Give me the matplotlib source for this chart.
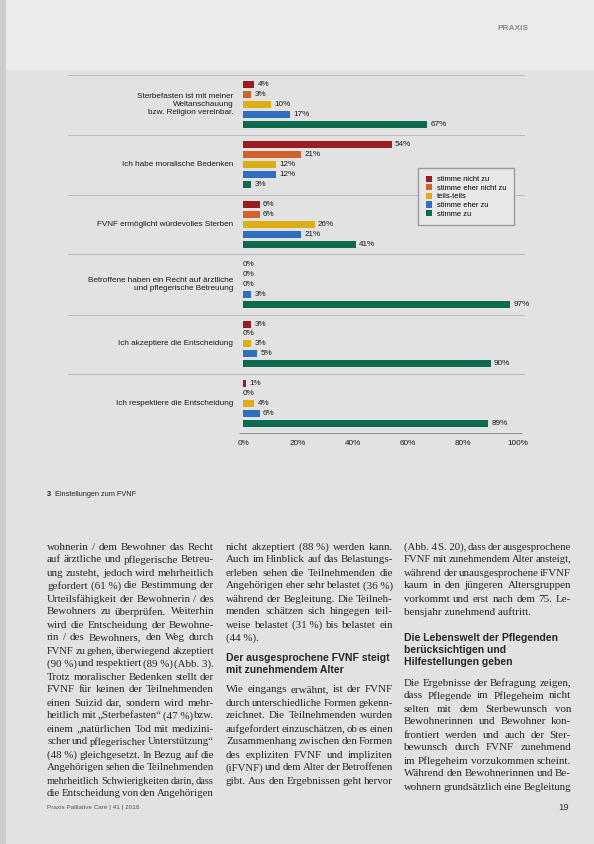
import matplotlib
matplotlib.use("Agg")
import matplotlib.pyplot as plt
from matplotlib.patches import Rectangle
import numpy as np

W, H = 594, 844

STATEMENTS = [
    "Sterbefasten ist mit meiner\nWeltanschauung\nbzw. Religion vereinbar.",
    "Ich habe moralische Bedenken",
    "FVNF ermöglicht würdevolles Sterben",
    "Betroffene haben ein Recht auf ärztliche\nund pflegerische Betreuung",
    "Ich akzeptiere die Entscheidung",
    "Ich respektiere die Entscheidung",
]
ANSWERS = ["stimme nicht zu", "stimme eher nicht zu", "teils-teils",
           "stimme eher zu", "stimme zu"]
stimme_nicht_zu = [4, 54, 6, 0, 3, 1]
stimme_eher_nicht_zu = [3, 21, 6, 0, 0, 0]
teils_teils = [10, 12, 26, 0, 3, 4]
stimme_eher_zu = [17, 12, 21, 3, 5, 6]
stimme_zu = [67, 3, 41, 97, 90, 89]
SERIES = [stimme_nicht_zu, stimme_eher_nicht_zu, teils_teils, stimme_eher_zu, stimme_zu]
COLORS = ["#9c1c22", "#d0622c", "#dcae14", "#2f6fbe", "#0b6a50"]
XTICKS = [0, 20, 40, 60, 80, 100]

CAPTION = "Einstellungen zum FVNF"

COL1 = [
    "wohnerin / dem Bewohner das Recht",
    "auf ärztliche und pflegerische Betreu-",
    "ung zusteht, jedoch wird mehrheitlich",
    "gefordert (61\u00a0%) die Bestimmung der",
    "Urteilsfähigkeit der Bewohnerin / des",
    "Bewohners zu überprüfen. Weiterhin",
    "wird die Entscheidung der Bewohne-",
    "rin / des Bewohners, den Weg durch",
    "FVNF zu gehen, überwiegend akzeptiert",
    "(90\u00a0%) und respektiert (89\u00a0%) (Abb.\u00a03).",
    "Trotz moralischer Bedenken stellt der",
    "FVNF für keinen der Teilnehmenden",
    "einen Suizid dar, sondern wird mehr-",
    "heitlich mit „Sterbefasten“ (47\u00a0%) bzw.",
    "einem „natürlichen Tod mit medizini-",
    "scher und pflegerischer Unterstützung“",
    "(48\u00a0%) gleichgesetzt. In Bezug auf die",
    "Angehörigen sehen die Teilnehmenden",
    "mehrheitlich Schwierigkeiten darin, dass",
    "die Entscheidung von den Angehörigen",
]
COL2A = [
    "nicht akzeptiert (88\u00a0%) werden kann.",
    "Auch im Hinblick auf das Belastungs-",
    "erleben sehen die Teilnehmenden die",
    "Angehörigen eher sehr belastet (36\u00a0%)",
    "während der Begleitung. Die Teilneh-",
    "menden schätzen sich hingegen teil-",
    "weise belastet (31\u00a0%) bis belastet ein",
    "(44\u00a0%).",
]
HEAD2 = ["Der ausgesprochene FVNF steigt", "mit zunehmendem Alter"]
COL2B = [
    "Wie eingangs erwähnt, ist der FVNF",
    "durch unterschiedliche Formen gekenn-",
    "zeichnet. Die Teilnehmenden wurden",
    "aufgefordert einzuschätzen, ob es einen",
    "Zusammenhang zwischen den Formen",
    "des expliziten FVNF und impliziten",
    "(iFVNF) und dem Alter der Betroffenen",
    "gibt. Aus den Ergebnissen geht hervor",
]
COL3A = [
    "(Abb.\u00a04 S.\u00a020), dass der ausgesprochene",
    "FVNF mit zunehmendem Alter ansteigt,",
    "während der unausgesprochene iFVNF",
    "kaum in den jüngeren Altersgruppen",
    "vorkommt und erst nach dem 75. Le-",
    "bensjahr zunehmend auftritt.",
]
HEAD3 = ["Die Lebenswelt der Pflegenden", "berücksichtigen und", "Hilfestellungen geben"]
COL3B = [
    "Die Ergebnisse der Befragung zeigen,",
    "dass Pflegende im Pflegeheim nicht",
    "selten mit dem Sterbewunsch von",
    "Bewohnerinnen und Bewohner kon-",
    "frontiert werden und auch der Ster-",
    "bewunsch durch FVNF zunehmend",
    "im Pflegeheim vorzukommen scheint.",
    "Während den Bewohnerinnen und Be-",
    "wohnern grundsätzlich eine Begleitung",
]


def fx(px):
    return px / W


def fy(py):
    return 1 - py / H


fig = plt.figure(figsize=(W / 100, H / 100), dpi=100)
fig.patch.set_facecolor("#e2e2e2")
fig.patches.append(Rectangle((0, fy(70)), 1, 70 / H, transform=fig.transFigure,
                             facecolor="#ebebeb", edgecolor="none", zorder=-5))
fig.patches.append(Rectangle((0, 0), fx(6), 1, transform=fig.transFigure,
                             facecolor="#cdcdcd", edgecolor="none", zorder=-4))

# chart axes: 0 % at x=243 px, 100 % at x=518 px
ax = fig.add_axes([fx(68), fy(436), (525 - 68) / W, (436 - 73) / H])
ax.set_facecolor("none")
ax.set_xlim((68 - 243) / 2.75, (525 - 243) / 2.75)
ax.set_ylim(35.2, -1.1)

label_font = dict(family="Liberation Sans", fontsize=5.9, color="#1a1a1a")
group_pos = np.arange(len(STATEMENTS)) * 6
handles = []
for k, (vals, col) in enumerate(zip(SERIES, COLORS)):
    ys = group_pos + k
    h = ax.barh(ys, vals, height=0.7, color=col, left=0)
    handles.append(h)
    for y, v in zip(ys, vals):
        ax.text(v + 1.3 if v > 0 else 0, y, f"{v}%", va="center", ha="left",
                **label_font)

for g, text in enumerate(STATEMENTS):
    ax.text(-3.6, group_pos[g] + 2, text, ha="right", va="center",
            multialignment="right", linespacing=1.2, **label_font)

for g in range(len(STATEMENTS)):
    ax.axhline(group_pos[g] - 0.95, color="#b4b4b4", lw=0.6)
ax.hlines(34.95, -1.5, 101.5, color="#8c8c8c", lw=0.7)

ax.set_xticks(XTICKS)
ax.set_xticklabels([f"{t}%" for t in XTICKS], **label_font)
ax.tick_params(axis="x", length=0, pad=3)
ax.set_yticks([])
for s in ax.spines.values():
    s.set_visible(False)

fig.legend(handles, ANSWERS, loc="upper left",
           bbox_to_anchor=(fx(418), fy(168)), bbox_transform=fig.transFigure,
           prop=dict(family="Liberation Sans", size=5.4), frameon=True,
           fancybox=False, edgecolor="#9a9a9a", facecolor="#e8e8e8",
           framealpha=1, handlelength=0.9, handleheight=0.9,
           handletextpad=0.6, labelspacing=0.12, borderpad=1.0,
           borderaxespad=0)

# page furniture
fig.text(fx(497), fy(28), "PRAXIS", family="Liberation Sans", weight="bold",
         fontsize=6.0, color="#8a8a8a", va="center")
fig.text(fx(47), fy(494), "3", family="Liberation Sans", weight="bold",
         fontsize=5.3, color="#222", va="center")
fig.text(fx(55), fy(494), CAPTION, family="Liberation Sans",
         fontsize=5.3, color="#222", va="center")
fig.text(fx(47), fy(808), "Praxis Palliative Care | 41 | 2018",
         family="Liberation Sans", fontsize=4.6, color="#555", va="center")
fig.text(fx(558), fy(807), "19", family="Liberation Sans", fontsize=6.8,
         color="#333", va="center")

renderer = fig.canvas.get_renderer()
BODY = dict(family="Liberation Serif", fontsize=7.9, color="#262626")
HEAD = dict(family="Liberation Sans", weight="bold", fontsize=7.5, color="#262626")


def set_block(lines, x0, x1, y0, step, style, justify=True, last_left=False):
    size = style["fontsize"]
    for i, line in enumerate(lines):
        y = fy(y0 + i * step)
        words = line.split(" ")
        n = len(words)
        if (not justify) or n == 1 or (last_left and i == len(lines) - 1):
            fig.text(fx(x0), y, line, va="center_baseline", **style)
            continue
        arts = [fig.text(0, y, w, va="center_baseline", **style) for w in words]
        widths = [a.get_window_extent(renderer).width for a in arts]
        gap = (x1 - x0 - sum(widths)) / (n - 1)
        if gap < 1.3:
            scale = (x1 - x0 - 1.3 * (n - 1)) / sum(widths)
            for a in arts:
                a.set_fontsize(size * scale)
            widths = [a.get_window_extent(renderer).width for a in arts]
            gap = (x1 - x0 - sum(widths)) / (n - 1)
        x = x0
        for a, w in zip(arts, widths):
            a.set_x(fx(x))
            x += w + gap


set_block(COL1, 47, 214, 546, 13.0, BODY)
set_block(COL2A, 226, 393, 546, 13.0, BODY, last_left=True)
set_block(HEAD2, 226, 393, 657, 12.0, HEAD, justify=False)
set_block(COL2B, 226, 393, 689, 13.0, BODY)
set_block(COL3A, 404, 571, 546, 13.0, BODY, last_left=True)
set_block(HEAD3, 404, 571, 637, 12.0, HEAD, justify=False)
set_block(COL3B, 404, 571, 682, 13.0, BODY)

fig.savefig("out.png", dpi=100, facecolor=fig.get_facecolor())
